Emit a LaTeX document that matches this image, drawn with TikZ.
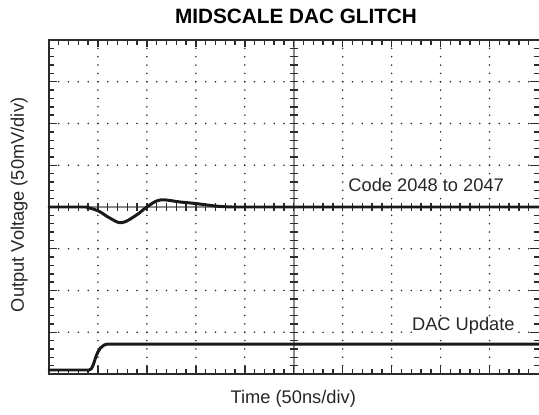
\documentclass[tikz,border=0pt]{standalone}
\usepackage{fontspec}
\setmainfont{Liberation Sans}
\usepackage{xcolor}

\definecolor{scopeink}{HTML}{2B2B2B}
\definecolor{axisgray}{HTML}{8C8C8C}
\tikzset{
  frameline/.style={scopeink,line width=1.5pt},
  tickline/.style={scopeink,line width=0.8pt},
  griddot/.style={scopeink},
  trace/.style={black!90,line width=1.7pt,line cap=round,line join=round},
  lbl/.style={inner sep=0pt,anchor=base,text=black!85,font=\fontsize{10.4}{12}\selectfont},
  titlelbl/.style={inner sep=0pt,anchor=base,font=\bfseries\fontsize{11.8}{14}\selectfont},
}

\begin{document}
\begin{tikzpicture}[x=0.979cm,y=0.835cm]
\useasboundingbox (-1.001,-0.958) rectangle (10.010,8.958);
% dotted grid
\foreach \gx in {1,2,3,4,6,7,8,9}
  \foreach \k in {1,...,39}
    \fill[griddot] (\gx,\k/5) circle (0.5pt);
\foreach \gy in {1,2,3,5,6,7}
  \foreach \k in {1,...,49}
    \fill[griddot] (\k/5,\gy) circle (0.5pt);
% centre axes
\draw[axisgray,line width=1.1pt] (5,0) -- (5,8);
\draw[axisgray,line width=1.1pt] (0,4) -- (10,4);
\foreach \k in {1,...,39}
  \draw[tickline] (5,\k/5) ++(-0.08cm,0) -- ++(0.16cm,0);
\foreach \k in {1,...,49}
  \draw[tickline] (\k/5,4) ++(0,-0.08cm) -- ++(0,0.16cm);
% border ticks
\foreach \k in {1,...,49}{
  \draw[tickline] (\k/5,8) -- ++(0,-0.1cm);
  \draw[tickline] (\k/5,0) -- ++(0,0.1cm);
}
\foreach \k in {1,...,39}{
  \draw[tickline] (0,\k/5) -- ++(0.1cm,0);
  \draw[tickline] (10,\k/5) -- ++(-0.1cm,0);
}
\foreach \gx in {1,...,9}{
  \draw[tickline] (\gx,8) -- ++(0,-0.15cm);
  \draw[tickline] (\gx,0) -- ++(0,0.16cm);
}
\foreach \gy in {1,...,7}{
  \draw[tickline] (0,\gy) -- ++(0.17cm,0);
  \draw[tickline] (10,\gy) -- ++(-0.17cm,0);
}
% frame
\draw[frameline] (10.02,8) -- (0,8) -- (0,0) -- (10.02,0);
% traces
\draw[trace] (0,4) -- (0.75,4) -- plot[smooth,tension=0.6] coordinates {(0.75,4) (1.0,3.91) (1.25,3.73) (1.49,3.624) (1.79,3.81) (2.0,4.0) (2.27,4.168) (2.68,4.12) (3.02,4.08) (3.43,4.02) (3.75,4.0)} -- (10,4);
\draw[trace] (0,0.096) -- (0.82,0.096) .. controls (0.95,0.096) and (0.92,0.718) .. (1.22,0.718) -- (10,0.718);
% labels
\node[titlelbl] (title) at (5.046,8.40) {MIDSCALE DAC GLITCH};
\node[lbl] (xlabel) at (4.99,-0.702) {Time (50ns/div)};
\node[lbl,rotate=90] (ylabel) at (-0.511,4.05) {Output Voltage (50mV/div)};
\node[lbl,fill=white,anchor=base west] (codelbl) at (6.11,4.367) {Code 2048 to 2047};
\node[lbl,fill=white,anchor=base west] (updlbl) at (7.41,1.037) {DAC Update};
\end{tikzpicture}
\end{document}
